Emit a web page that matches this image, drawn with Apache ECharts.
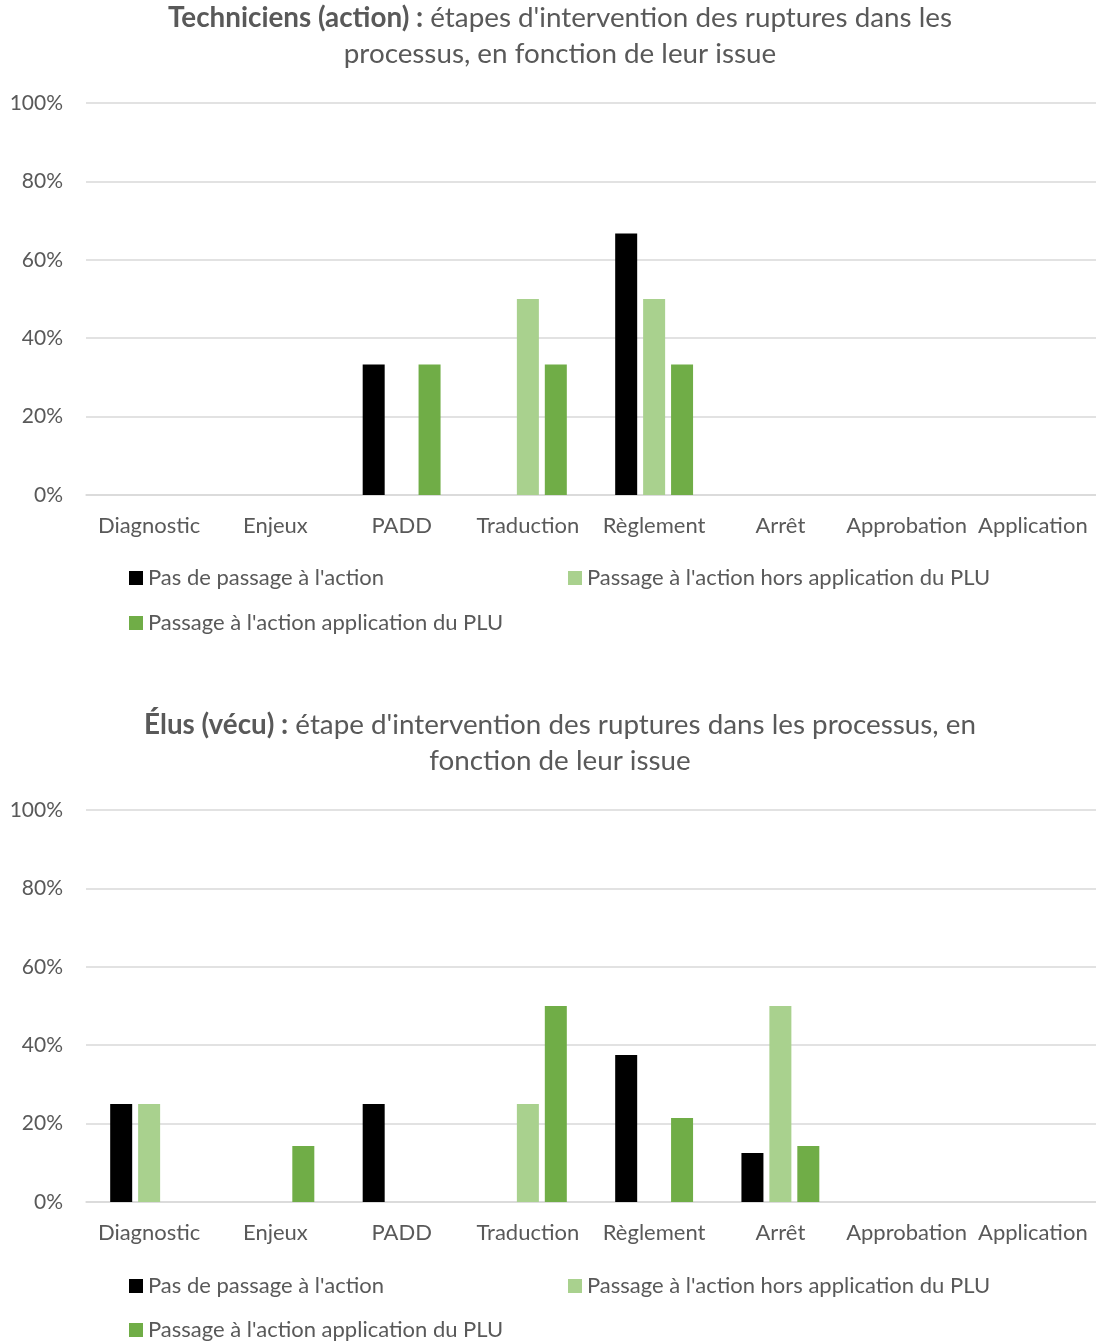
<!DOCTYPE html>
<html>
<head>
<meta charset="utf-8">
<script src="https://cdn.jsdelivr.net/npm/echarts@6/dist/echarts.min.js"></script>
<style>
html,body{margin:0;padding:0;background:#fff;}
#chart{width:1096px;height:1343px;}
</style>
</head>
<body>
<div id="chart"></div>
<script>
// ---- Data ----
var categories = ['Diagnostic', 'Enjeux', 'PADD', 'Traduction', 'Règlement', 'Arrêt', 'Approbation', 'Application'];
var seriesNames = ["Pas de passage à l'action", "Passage à l'action hors application du PLU", "Passage à l'action application du PLU"];
var yTicks = [0, 20, 40, 60, 80, 100];

// Techniciens (action)
var techPas = [null, null, 33.3, null, 66.7, null, null, null];
var techHors = [null, null, null, 50, 50, null, null, null];
var techApp = [null, null, 33.3, 33.3, 33.3, null, null, null];

// Élus (vécu)
var elusPas = [25, null, 25, null, 37.5, 12.5, null, null];
var elusHors = [25, null, null, 25, null, 50, null, null];
var elusApp = [null, 14.3, null, 50, 21.4, 14.3, null, null];

var colors = ['#000000', '#a9d18e', '#70ad47'];
var FONT = 'Lato';
var TXT = '#595959';

function xAxis(gi) {
  return {
    type: 'category', gridIndex: gi, data: categories,
    axisLine: { lineStyle: { color: '#d9d9d9', width: 1.5 } },
    axisTick: { show: false },
    axisLabel: { interval: 0, hideOverlap: false, fontFamily: FONT, fontSize: 22, color: TXT, margin: 20 }
  };
}
function yAxis(gi) {
  return {
    type: 'value', gridIndex: gi, min: yTicks[0], max: yTicks[yTicks.length - 1], interval: 20,
    axisLine: { show: false }, axisTick: { show: false },
    splitLine: { lineStyle: { color: '#d9d9d9', width: 1.5 } },
    axisLabel: { formatter: '{value}%', fontFamily: FONT, fontSize: 21, color: TXT, margin: 23 }
  };
}
function bar(name, data, ci, gi) {
  return {
    type: 'bar', name: name, data: data, xAxisIndex: gi, yAxisIndex: gi,
    barWidth: 22, barGap: '27%',
    itemStyle: { color: colors[ci] },
    emphasis: { disabled: true }
  };
}
function legend(name, left, top) {
  return {
    data: [name], left: left, top: top, padding: 0, icon: 'rect', itemWidth: 14, itemHeight: 14,
    selectedMode: false,
    textStyle: { fontFamily: FONT, fontSize: 22, color: TXT }
  };
}
var titleStyle = {
  fontFamily: FONT, fontSize: 27.8, fontWeight: 'normal', color: TXT, lineHeight: 36,
  rich: { b: { fontFamily: FONT, fontSize: 27.8, fontWeight: 'bold', color: TXT, lineHeight: 36 } }
};

var option = {
  animation: false,
  backgroundColor: '#ffffff',
  title: [
    { text: "{b|Techniciens (action) :} étapes d'intervention des ruptures dans les\nprocessus, en fonction de leur issue",
      left: 560, top: 0, textAlign: 'center', padding: 0, textStyle: titleStyle },
    { text: "{b|Élus (vécu) :} étape d'intervention des ruptures dans les processus, en\nfonction de leur issue",
      left: 560, top: 707, textAlign: 'center', padding: 0, textStyle: titleStyle }
  ],
  grid: [
    { left: 86, right: 0, top: 103, height: 392 },
    { left: 86, right: 0, top: 810, height: 392 }
  ],
  xAxis: [xAxis(0), xAxis(1)],
  yAxis: [yAxis(0), yAxis(1)],
  legend: [
    legend(seriesNames[0], 129, 567), legend(seriesNames[1], 568, 567), legend(seriesNames[2], 129, 612),
    legend(seriesNames[0], 129, 1275), legend(seriesNames[1], 568, 1275), legend(seriesNames[2], 129, 1319)
  ],
  series: [
    bar(seriesNames[0], techPas, 0, 0), bar(seriesNames[1], techHors, 1, 0), bar(seriesNames[2], techApp, 2, 0),
    bar(seriesNames[0], elusPas, 0, 1), bar(seriesNames[1], elusHors, 1, 1), bar(seriesNames[2], elusApp, 2, 1)
  ]
};
var chart = echarts.init(document.getElementById('chart'));
chart.setOption(option);
</script>
</body>
</html>
